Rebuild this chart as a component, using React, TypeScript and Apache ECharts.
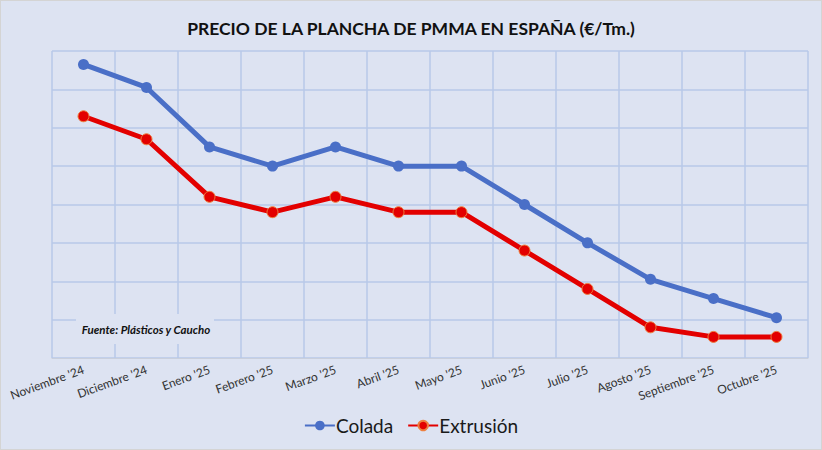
import React, { useRef, useEffect } from 'react';
import * as echarts from 'echarts';

// Categorías del eje X
const meses = [
    "Noviembre '24",
    "Diciembre '24",
    "Enero '25",
    "Febrero '25",
    "Marzo '25",
    "Abril '25",
    "Mayo '25",
    "Junio '25",
    "Julio '25",
    "Agosto '25",
    "Septiembre '25",
    "Octubre '25",
];

// Valores (escala sin etiquetas)
const colada = [7.65, 7.05, 5.5, 5.0, 5.5, 5.0, 5.0, 4.0, 3.0, 2.05, 1.55, 1.05];
const extrusion = [6.3, 5.7, 4.2, 3.8, 4.2, 3.8, 3.8, 2.8, 1.8, 0.8, 0.55, 0.55];

const titulo = 'PRECIO DE LA PLANCHA DE PMMA EN ESPAÑA (€/Tm.)';
const fuente = 'Fuente: Plásticos y Caucho';

const BG = '#dde3f2';
const GRID = '#b7c8e8';
const FONT = 'Lato, "Noto Sans", sans-serif';

const App: React.FC = () => {
    const chartRef = useRef<HTMLDivElement>(null);

    useEffect(() => {
        if (!chartRef.current) return;
        const chart = echarts.init(chartRef.current, undefined, { renderer: 'svg' });

        const option = {
            animation: false,
            backgroundColor: BG,
            textStyle: { fontFamily: FONT },
            title: {
                text: titulo,
                left: 'center',
                top: 13,
                textStyle: { fontFamily: FONT, fontSize: 17.5, fontWeight: 'bold', color: '#111111' },
            },
            legend: {
                bottom: 9,
                left: 'center',
                itemWidth: 30,
                itemHeight: 12,
                itemGap: 14,
                textStyle: { fontFamily: FONT, fontSize: 19, color: '#1a1a1a', padding: [0, 0, 0, -4] },
                data: ['Colada', 'Extrusión'],
            },
            grid: {
                left: 51,
                right: 13,
                top: 50,
                bottom: 91,
            },
            xAxis: {
                type: 'category',
                data: meses,
                boundaryGap: true,
                axisTick: { show: false },
                axisLine: { show: true, lineStyle: { color: '#c9cfdc', width: 1 } },
                splitLine: { show: true, interval: 0, lineStyle: { color: GRID, width: 1.5 } },
                axisLabel: {
                    interval: 0,
                    rotate: 20,
                    margin: 11,
                    fontFamily: FONT,
                    fontSize: 12,
                    color: '#333333',
                },
            },
            yAxis: {
                type: 'value',
                min: 0,
                max: 8,
                interval: 1,
                axisLabel: { show: false },
                axisLine: { show: false },
                axisTick: { show: false },
                splitLine: { show: true, lineStyle: { color: GRID, width: 1.5 } },
            },
            graphic: [
                {
                    type: 'rect',
                    shape: { x: 75, y: 313, width: 138, height: 30 },
                    style: { fill: BG },
                    z: 10,
                },
                {
                    type: 'text',
                    x: 145,
                    y: 328,
                    z: 11,
                    style: {
                        text: fuente,
                        fontFamily: FONT,
                        fontSize: 11.5,
                        fontWeight: 'bold',
                        fontStyle: 'italic',
                        fill: '#111111',
                        align: 'center',
                        verticalAlign: 'middle',
                    },
                },
            ],
            series: [
                {
                    name: 'Colada',
                    type: 'line',
                    data: colada,
                    symbol: 'circle',
                    symbolSize: 11,
                    lineStyle: { color: '#4a6fc7', width: 5 },
                    itemStyle: { color: '#4a6fc7' },
                    z: 3,
                },
                {
                    name: 'Extrusión',
                    type: 'line',
                    data: extrusion,
                    symbol: 'circle',
                    symbolSize: 11,
                    lineStyle: { color: '#e30000', width: 5 },
                    itemStyle: { color: '#e30000', borderColor: '#ee8040', borderWidth: 1 },
                    z: 4,
                },
            ],
        };

        chart.setOption(option);
        return () => {
            chart.dispose();
        };
    }, []);

    return (
        <div
            ref={chartRef}
            style={{
                position: 'absolute',
                left: 0,
                top: 0,
                width: '822px',
                height: '450px',
                boxSizing: 'border-box',
                border: '1px solid #d4d4d4',
            }}
        ></div>
    );
};

export default App;
